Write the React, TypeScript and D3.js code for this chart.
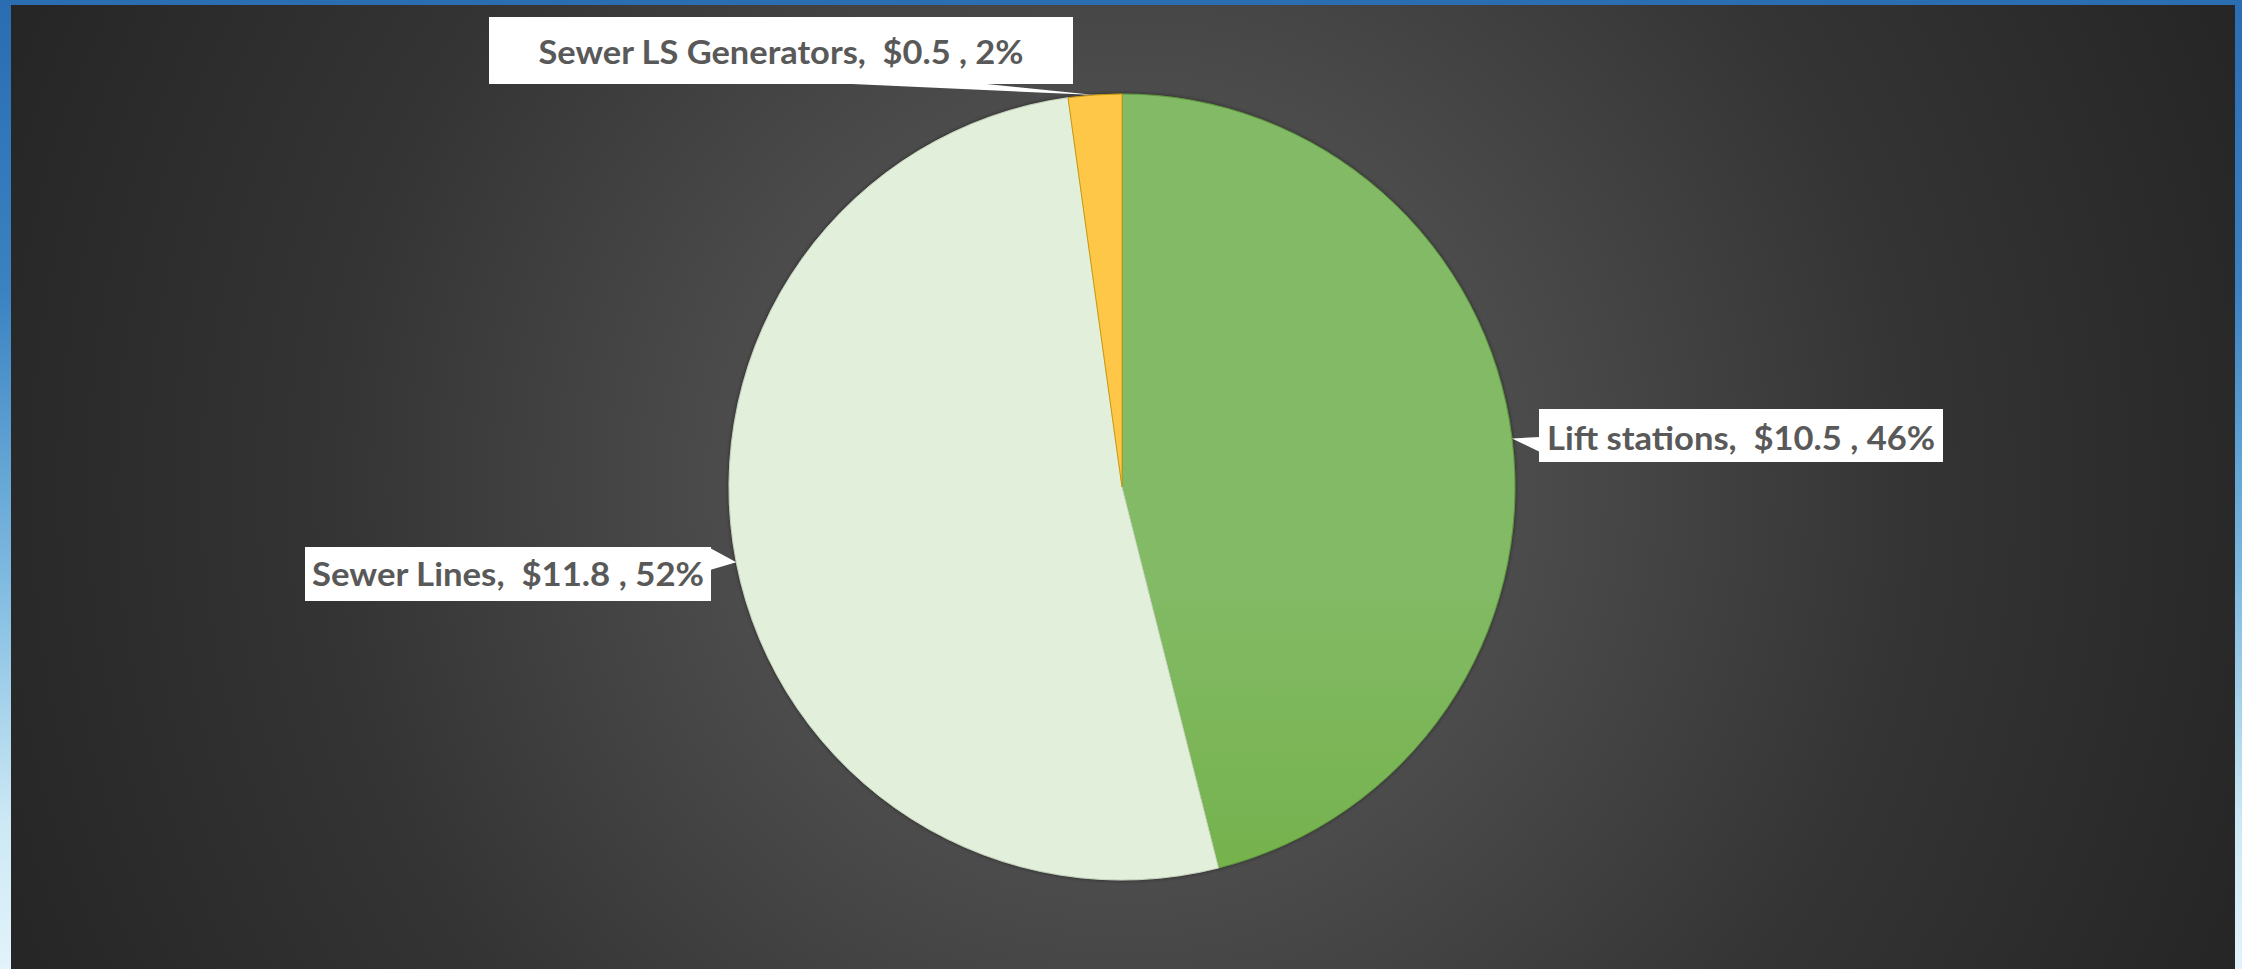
import React from "react";
import * as d3 from "d3";

const categories = ["Lift stations", "Sewer Lines", "Sewer LS Generators"];
const values = [10.5, 11.8, 0.5];
const valueLabels = ["$10.5", "$11.8", "$0.5"];
const percentLabels = ["46%", "52%", "2%"];

const W = 2242;
const H = 969;
const CX = 1122;
const CY = 487;
const R = 393;

// label box layout (box rect, text width, pointer base on box edge)
const labelLayout = [
  { x: 1539, y: 409, w: 404, h: 53, tw: 388, base: 450, side: "left", b0: 437, b1: 452 },
  { x: 305, y: 547, w: 406, h: 54, tw: 392, base: 586, side: "right", b0: 548, b1: 570 },
  { x: 489, y: 17, w: 584, h: 67, tw: 485, base: 64, side: "bottom", b0: 830, b1: 977 },
];

export default function App() {
  React.useEffect(() => {
    document.body.style.margin = "0";
  }, []);

  const pie = d3.pie<number>().sort(null).value((d) => d)(values);
  const arc = d3.arc<d3.PieArcDatum<number>>().innerRadius(0).outerRadius(R);
  const fills = ["url(#gGreen)", "#E2EFDA", "url(#gYellow)"];
  const strokes = ["#5f9a3a", "#c9d6c0", "#c99a10"];

  return (
    <svg width={W} height={H} style={{ display: "block", position: "absolute", left: 0, top: 0 }}>
      <defs>
        <linearGradient id="gBlue" x1="0" y1="0" x2="0" y2="1">
          <stop offset="0" stopColor="#2a6db1" />
          <stop offset="0.3" stopColor="#3a82c2" />
          <stop offset="0.6" stopColor="#7fbbe0" />
          <stop offset="0.85" stopColor="#cde9f5" />
          <stop offset="1" stopColor="#e2f3fa" />
        </linearGradient>
        <radialGradient id="gBg" gradientUnits="userSpaceOnUse" cx={CX} cy={CY} r={1220}>
          <stop offset="0" stopColor="#5b5b5b" />
          <stop offset="0.32" stopColor="#4c4c4c" />
          <stop offset="0.65" stopColor="#343434" />
          <stop offset="1" stopColor="#252525" />
        </radialGradient>
        <linearGradient id="gGreen" gradientUnits="userSpaceOnUse" x1="0" y1={CY - R} x2="0" y2={CY + R}>
          <stop offset="0" stopColor="#83ba66" />
          <stop offset="0.5" stopColor="#70b044" />
          <stop offset="1" stopColor="#62a43a" />
        </linearGradient>
        <linearGradient id="gYellow" gradientUnits="userSpaceOnUse" x1="0" y1={CY - R} x2="0" y2={CY}>
          <stop offset="0" stopColor="#ffc747" />
          <stop offset="1" stopColor="#f2b600" />
        </linearGradient>
        <filter id="shadow" x="-10%" y="-10%" width="120%" height="120%">
          <feDropShadow dx="0" dy="0" stdDeviation="2" floodColor="#000" floodOpacity="0.45" />
        </filter>
      </defs>
      <rect x={0} y={0} width={W} height={H} fill="url(#gBlue)" />
      <rect x={11} y={5} width={2235 - 11} height={H - 5} fill="url(#gBg)" />
      <g transform={`translate(${CX},${CY})`} filter="url(#shadow)">
        {pie.map((p, i) => (
          <path key={categories[i]} d={arc(p) || ""} fill={fills[i]} stroke={strokes[i]} strokeWidth={1} />
        ))}
      </g>
      {pie.map((p, i) => {
        const L = labelLayout[i];
        const a = (p.startAngle + p.endAngle) / 2;
        const tx = CX + R * Math.sin(a);
        const ty = CY - R * Math.cos(a);
        let pts: [number, number][] = [];
        if (L.side === "left") pts = [[L.x + 1, L.b0], [tx, ty], [L.x + 1, L.b1]];
        else if (L.side === "right") pts = [[L.x + L.w - 1, L.b0], [tx, ty], [L.x + L.w - 1, L.b1]];
        else pts = [[L.b0, L.y + L.h - 1], [tx, ty], [L.b1, L.y + L.h - 1]];
        const label = `${categories[i]},  ${valueLabels[i]} , ${percentLabels[i]}`;
        return (
          <g key={"lab" + i}>
            <polygon points={pts.map((q) => q.join(",")).join(" ")} fill="#ffffff" />
            <rect x={L.x} y={L.y} width={L.w} height={L.h} fill="#ffffff" />
            <text
              x={L.x + L.w / 2}
              y={L.base}
              textAnchor="middle"
              fontFamily="Lato, 'Open Sans', sans-serif"
              fontWeight={700}
              fontSize={33}
              fill="#595959"
              textLength={L.tw}
              lengthAdjust="spacingAndGlyphs"
              style={{ whiteSpace: "pre" }}
            >
              {label}
            </text>
          </g>
        );
      })}
    </svg>
  );
}
